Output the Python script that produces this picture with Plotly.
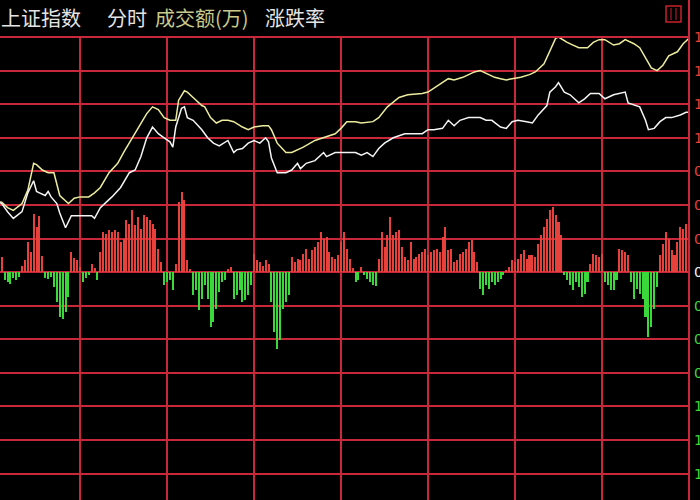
import plotly.graph_objects as go

# ---------------- data ----------------
# Index line (white), % change vs previous close, by trading minute (0..240)
white_t = [0, 3, 5, 7, 10, 12, 14, 15, 16, 18, 19, 20, 22, 23, 25, 27, 30, 34, 35, 37,
           41, 44, 47, 49, 51, 53, 55, 57, 59, 61, 62, 63, 65, 66, 67, 69, 72, 74, 76, 78,
           81, 83, 84, 86, 88, 90, 92, 94, 95, 96, 98, 101, 103, 105, 106, 108, 111, 114, 115, 118,
           120, 122, 125, 127, 129, 131, 133, 135, 138, 142, 145, 148, 150, 152, 155, 157, 159, 161, 164, 166,
           168, 170, 172, 175, 177, 179, 181, 184, 186, 188, 191, 192, 194, 195, 197, 199, 200, 202, 204, 206,
           209, 211, 214, 216, 218, 219, 222, 223, 225, 226, 228, 230, 232, 234, 237, 239, 240]
white_v = [0.54, 0.51, 0.45, 0.40, 0.45, 0.59, 0.68, 0.60, 0.59, 0.57, 0.60, 0.56, 0.51, 0.44, 0.33, 0.42, 0.42, 0.42, 0.40, 0.48,
           0.56, 0.63, 0.74, 0.76, 0.86, 1.00, 1.08, 1.03, 1.00, 0.97, 0.93, 1.08, 1.22, 1.23, 1.15, 1.13, 1.06, 1.00, 0.96, 0.94,
           0.98, 0.89, 0.91, 0.92, 0.96, 0.98, 0.96, 1.00, 0.97, 0.85, 0.74, 0.74, 0.76, 0.81, 0.77, 0.81, 0.83, 0.89, 0.86, 0.89,
           0.89, 0.89, 0.89, 0.87, 0.89, 0.86, 0.92, 0.96, 1.00, 1.03, 1.03, 1.03, 1.06, 1.06, 1.07, 1.13, 1.09, 1.13, 1.15, 1.15,
           1.15, 1.13, 1.13, 1.08, 1.07, 1.12, 1.13, 1.12, 1.11, 1.17, 1.24, 1.34, 1.38, 1.41, 1.34, 1.32, 1.30, 1.26, 1.29, 1.33,
           1.33, 1.29, 1.32, 1.33, 1.34, 1.26, 1.24, 1.23, 1.13, 1.06, 1.07, 1.12, 1.15, 1.15, 1.17, 1.19, 1.19]

# Unweighted index line (yellow)
yellow_t = [0, 3, 5, 7, 10, 12, 14, 15, 17, 19, 21, 22, 23, 26, 28, 30, 33, 35, 37, 40,
            43, 45, 48, 51, 53, 55, 57, 59, 61, 63, 64, 66, 67, 69, 72, 73, 75, 77, 79, 81,
            83, 86, 88, 90, 93, 95, 96, 98, 101, 103, 105, 107, 111, 114, 118, 120, 122, 125, 127, 131,
            133, 136, 140, 143, 148, 150, 152, 155, 157, 159, 162, 164, 166, 168, 170, 173, 175, 177, 179, 182,
            185, 187, 190, 192, 194, 195, 198, 200, 202, 205, 207, 209, 211, 214, 216, 218, 221, 223, 225, 227,
            229, 231, 233, 236, 238, 240]
yellow_v = [0.53, 0.52, 0.48, 0.46, 0.51, 0.61, 0.81, 0.80, 0.76, 0.74, 0.74, 0.66, 0.57, 0.51, 0.55, 0.56, 0.56, 0.59, 0.63, 0.74,
            0.81, 0.89, 1.00, 1.11, 1.18, 1.23, 1.21, 1.15, 1.13, 1.13, 1.28, 1.35, 1.34, 1.30, 1.24, 1.23, 1.15, 1.11, 1.13, 1.13,
            1.12, 1.08, 1.06, 1.08, 1.09, 1.09, 1.06, 0.96, 0.89, 0.89, 0.91, 0.93, 0.98, 1.00, 1.03, 1.07, 1.12, 1.12, 1.11, 1.12,
            1.15, 1.23, 1.30, 1.32, 1.33, 1.34, 1.37, 1.41, 1.44, 1.43, 1.45, 1.47, 1.49, 1.50, 1.48, 1.45, 1.44, 1.43, 1.44, 1.45,
            1.47, 1.49, 1.55, 1.65, 1.74, 1.75, 1.71, 1.69, 1.67, 1.67, 1.71, 1.73, 1.73, 1.69, 1.70, 1.73, 1.70, 1.67, 1.60, 1.52,
            1.50, 1.54, 1.61, 1.64, 1.70, 1.74]

# Red/green strength bars, one per minute 0..240
bar_v = [5, 8, 12, 15, -8, -10, -12, -6, -8, -5,
         6, 12, 30, 20, 58, 45, 56, 16, -6, -7,
         -5, -15, -30, -45, -47, -40, -25, 20, 14, 12,
         5, -10, -6, -3, 8, 4, -8, 20, 40, 38,
         42, 40, 42, 40, 30, 33, 52, 48, 62, 47,
         55, 43, 57, 55, 52, 48, 43, 23, 10, -13,
         -10, -8, -18, 8, 70, 80, 72, 12, 3, -23,
         -18, -38, -27, -13, -27, -55, -50, -37, -20, -10,
         -8, 3, 5, -27, -23, -18, -30, -28, -23, -13,
         18, 12, 10, 6, 12, 8, -30, -60, -77, -68,
         -37, -30, -23, 15, 10, 13, 12, 18, 23, 13,
         22, 25, 30, 40, 33, 35, 20, 15, 13, 17,
         30, 40, 23, 13, 4, -10, -8, 5, -3, -7,
         -10, -13, -14, 13, 40, 25, 37, 55, 37, 40,
         42, 25, 15, 12, 30, 13, 15, 18, 20, 23,
         17, 20, 22, 23, 20, 35, 45, 22, 23, 10,
         12, 18, 20, 23, 30, 32, 20, 10, -17, -23,
         -13, -17, -10, -13, -10, -7, -3, 2, 5, 12,
         10, 13, 18, 22, 13, 17, 17, 15, 28, 37,
         45, 53, 62, 65, 57, 50, 37, -3, -8, -13,
         -18, -10, -15, -25, -22, -10, 8, 18, 17, 15,
         18, -10, -13, -18, -18, -8, 23, 22, 20, 17,
         -10, -27, -17, -22, -27, -45, -65, -55, -37, -15,
         17, 28, 40, 33, 22, 17, 30, 45, 43, 48,
         45]
bar_t = list(range(len(bar_v)))

# Right-side scale labels (% change), grid levels
scale_levels = [1.75, 1.50, 1.25, 1.00, 0.75, 0.50, 0.25, 0.00,
                -0.25, -0.50, -0.75, -1.00, -1.25, -1.50]

header_items = [("上证指数", 0, "#e4e4e4"), ("分时", 106, "#e4e4e4"),
                ("成交额(万)", 154, "#c9c98c"), ("涨跌率", 264, "#e4e4e4")]

# ---------------- styling ----------------
GRID = "#c8283a"
RED = "#e8403a"
GREEN = "#3ad83a"
FONT = "Noto Sans CJK SC, Noto Sans, sans-serif"

W, H = 700, 500
ML, MR, MT, MB = 0, 11, 37, 0
PLOT_W = W - ML - MR
PLOT_H = H - MT - MB

PCT_RANGE = [-1.696, 1.75]
PX_PER_PCT = PLOT_H / (PCT_RANGE[1] - PCT_RANGE[0])
BAR_RANGE = [PCT_RANGE[0] * PX_PER_PCT, PCT_RANGE[1] * PX_PER_PCT]

fig = go.Figure()

fig.add_trace(go.Bar(
    x=bar_t, y=bar_v, width=0.7,
    marker=dict(color=[RED if v >= 0 else GREEN for v in bar_v], line=dict(width=0)),
    yaxis="y", showlegend=False, hoverinfo="skip"))

fig.add_trace(go.Scatter(
    x=yellow_t, y=yellow_v, mode="lines", yaxis="y2",
    line=dict(color="#ecec9e", width=1.5), showlegend=False))
fig.add_trace(go.Scatter(
    x=white_t, y=white_v, mode="lines", yaxis="y2",
    line=dict(color="#f4f4f4", width=1.5), showlegend=False))

annotations = []
for text, px, col in header_items:
    annotations.append(dict(text=text, xref="paper", yref="paper", x=0, y=1,
                            xshift=px - 1, yshift=20, xanchor="left", yanchor="middle",
                            showarrow=False, font=dict(family=FONT, size=20, color=col)))
for lv in scale_levels:
    col = RED if lv > 0 else ("#f0f0f0" if lv == 0 else GREEN)
    annotations.append(dict(text=f"{abs(lv):.2f}%", xref="paper", yref="y2", x=1, y=lv,
                            xshift=3, xanchor="left", yanchor="middle", showarrow=False,
                            font=dict(family="DejaVu Sans", size=14, color=col)))


def px2x(px):
    return (px - ML) / PLOT_W


def py2y(py):
    return 1 + (MT - py) / PLOT_H


shapes = [
    dict(type="line", xref="paper", yref="paper", x0=0, x1=1, y0=1, y1=1,
         line=dict(color=GRID, width=2)),
    dict(type="line", xref="paper", yref="paper", x0=1, x1=1, y0=py2y(H), y1=py2y(0),
         line=dict(color=GRID, width=2)),
    dict(type="rect", xref="paper", yref="paper", x0=px2x(666), x1=px2x(681),
         y0=py2y(22), y1=py2y(6), line=dict(color="#c8202c", width=1.5)),
    dict(type="line", xref="paper", yref="paper", x0=px2x(671), x1=px2x(671),
         y0=py2y(20), y1=py2y(8), line=dict(color="#c8202c", width=1)),
    dict(type="line", xref="paper", yref="paper", x0=px2x(676), x1=px2x(676),
         y0=py2y(20), y1=py2y(8), line=dict(color="#c8202c", width=1)),
]

fig.update_layout(
    width=W, height=H,
    margin=dict(l=ML, r=MR, t=MT, b=MB, pad=0),
    paper_bgcolor="#000000", plot_bgcolor="#000000",
    bargap=0,
    hovermode=False,
    xaxis=dict(range=[2.4, 240], tick0=0, dtick=30, showgrid=True, gridcolor=GRID, gridwidth=1.5,
               zeroline=False, showticklabels=False, ticks="", showline=False, fixedrange=True),
    yaxis=dict(range=BAR_RANGE, showgrid=True, tick0=0, dtick=0.25 * PX_PER_PCT, gridcolor=GRID,
               gridwidth=1.5, zeroline=True, zerolinecolor=GRID, zerolinewidth=1.5,
               showticklabels=False, ticks="", showline=False),
    yaxis2=dict(range=PCT_RANGE, overlaying="y", showgrid=False, zeroline=False,
                showticklabels=False, ticks="", showline=False),
    annotations=annotations,
    shapes=shapes,
)

fig.write_html(
    "out.html",
    config={"displayModeBar": False},
    post_script="document.body.style.margin='0';document.body.style.overflow='hidden';"
                "document.body.style.background='#000';",
)
